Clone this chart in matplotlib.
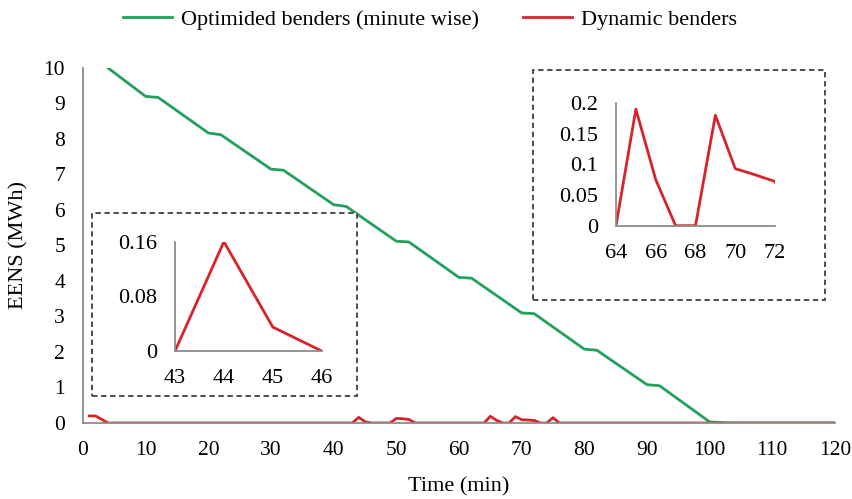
import matplotlib
matplotlib.use("Agg")
import matplotlib.pyplot as plt
from matplotlib.lines import Line2D
from matplotlib.patches import Rectangle

# ---- data ----
green_minutes = [4, 10, 12, 20, 22, 30, 32, 40, 42, 50, 52, 60, 62, 70, 72, 80, 82, 90, 92, 100, 103, 120]
green_eens = [10.0, 9.2, 9.17, 8.17, 8.12, 7.15, 7.12, 6.15, 6.1, 5.12, 5.1, 4.1, 4.08, 3.1, 3.08, 2.08, 2.05, 1.08, 1.05, 0.03, 0.0, 0.0]

red_minutes = [1, 2, 3, 4, 43, 44, 45, 46, 49, 50, 51, 52, 53, 64, 65, 66, 67, 68, 69, 70, 71, 72, 73, 74, 75, 76, 120]
red_eens = [0.2, 0.2, 0.1, 0.0, 0.0, 0.16, 0.035, 0.0, 0.0, 0.13, 0.12, 0.1, 0.0, 0.0, 0.19, 0.075, 0.0, 0.0, 0.18, 0.093, 0.083, 0.072, 0.0, 0.0, 0.15, 0.0, 0.0]

main_xticks = [0, 10, 20, 30, 40, 50, 60, 70, 80, 90, 100, 110, 120]
main_yticks = [0, 1, 2, 3, 4, 5, 6, 7, 8, 9, 10]
inset1_xticks = [43, 44, 45, 46]
inset1_yticks = [0, 0.08, 0.16]
inset1_ylabels = ["0", "0.08", "0.16"]
inset2_xticks = [64, 66, 68, 70, 72]
inset2_yticks = [0, 0.05, 0.1, 0.15, 0.2]
inset2_ylabels = ["0", "0.05", "0.1", "0.15", "0.2"]

label_green = "Optimided benders (minute wise)"
label_red = "Dynamic benders"

GREEN = "#23a05c"
RED = "#d8232a"
SPINE = "#8c8c8c"
FS = 16

plt.rcParams['font.family'] = ['Liberation Serif', 'DejaVu Serif']
plt.rcParams['font.size'] = FS

W, H = 852, 499
fig = plt.figure(figsize=(W / 100, H / 100), dpi=100)


def fbox(x0, y0, x1, y1):
    return [x0 / W, 1 - y1 / H, (x1 - x0) / W, (y1 - y0) / H]


def style(ax, fs):
    for s in ["top", "right"]:
        ax.spines[s].set_visible(False)
    for s in ["left", "bottom"]:
        ax.spines[s].set_color(SPINE)
        ax.spines[s].set_linewidth(1.3)
    ax.tick_params(length=0, pad=13, labelsize=fs, colors="black")


ax = fig.add_axes(fbox(83, 68, 835, 423))
ax.plot(green_minutes, green_eens, color=GREEN, lw=2, solid_joinstyle="round")
ax.plot(red_minutes, red_eens, color=RED, lw=2, solid_joinstyle="round")
ax.set_xlim(0, 120)
ax.set_ylim(0, 10)
ax.set_xticks(main_xticks)
ax.set_yticks(main_yticks)
style(ax, 15.5)
ax.set_xlabel("Time (min)", fontsize=FS)
ax.set_ylabel("EENS (MWh)", fontsize=FS)
ax.xaxis.set_label_coords(0.5, -0.152)
ax.yaxis.set_label_coords(-0.072, 0.5)

# dashed boxes
for (x0, y0, x1, y1) in [(92, 213, 357, 396), (533, 70, 825, 300)]:
    r = Rectangle((x0 / W, 1 - y1 / H), (x1 - x0) / W, (y1 - y0) / H,
                  transform=fig.transFigure, fill=True, facecolor="white",
                  edgecolor="#404040", lw=1.3, ls=(0, (3, 2)), zorder=3)
    fig.patches.append(r)

ax1 = fig.add_axes(fbox(175, 241.7, 321.7, 351))
ax1.set_zorder(5)
ax1.patch.set_alpha(0)
ax1.plot(red_minutes, red_eens, color=RED, lw=2)
ax1.set_xlim(43, 46)
ax1.set_ylim(0, 0.16)
ax1.set_xticks(inset1_xticks)
ax1.set_yticks(inset1_yticks)
ax1.set_yticklabels(inset1_ylabels)
style(ax1, FS)

ax2 = fig.add_axes(fbox(616, 103, 775, 225.7))
ax2.set_zorder(5)
ax2.patch.set_alpha(0)
ax2.plot(red_minutes, red_eens, color=RED, lw=2)
ax2.set_xlim(64, 72)
ax2.set_ylim(0, 0.2)
ax2.set_xticks(inset2_xticks)
ax2.set_yticks(inset2_yticks)
ax2.set_yticklabels(inset2_ylabels)
style(ax2, FS)

handles = [Line2D([], [], color=GREEN, lw=2), Line2D([], [], color=RED, lw=2)]
fig.legend(handles, [label_green, label_red], loc="center", bbox_to_anchor=(0.505, 0.96),
           ncol=2, frameon=False, fontsize=FS, handlelength=2.2, handletextpad=0.4,
           columnspacing=2.0)

fig.savefig("out.png", dpi=100)
